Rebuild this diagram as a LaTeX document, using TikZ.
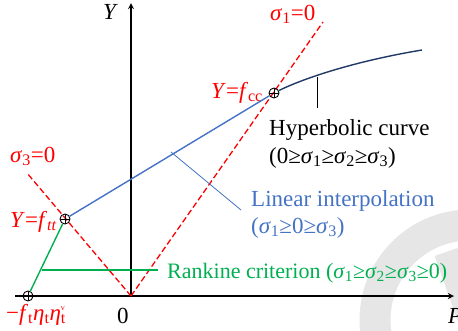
\documentclass[tikz,border=0pt]{standalone}
\usepackage{fontspec}
\setmainfont{Liberation Serif}
\usepackage{tikz}
\usetikzlibrary{arrows}
\definecolor{zerored}{HTML}{FF0000}
\definecolor{interpblue}{HTML}{4472C4}
\definecolor{rankgreen}{HTML}{00B050}
\definecolor{hypnavy}{HTML}{1F3864}
\definecolor{wmgray}{HTML}{E6E6E6}
\newcommand{\sg}[1]{\textit{σ}\textsubscript{#1}}

\begin{document}
\begin{tikzpicture}[
    x=1pt, y=-1pt,
    axis/.style={->, >=stealth, line width=1.7pt, draw=black},
    zeroline/.style={draw=zerored, line width=1.3pt, dash pattern=on 6pt off 3pt},
    meridian/.style={line width=1.4pt},
    pointer/.style={line width=0.8pt},
    lbl/.style={font=\fontsize{23}{26}\selectfont, inner sep=0pt, anchor=base west},
    crosspt/.style={
      circle, draw=black, line width=0.9pt,
      minimum size=10pt, inner sep=0pt,
      path picture={
        \draw[line width=0.9pt]
          (path picture bounding box.north) -- (path picture bounding box.south)
          (path picture bounding box.west) -- (path picture bounding box.east);
      }
    }
  ]

    \useasboundingbox (0,0) rectangle (458,330);

    % ── Watermark (background) ───────────────────────────────────────────
    \draw[wmgray, line width=31pt] (470,320) circle[radius=95];
    \draw[wmgray, line width=24pt] (470,320) -- (446,252);

    % ── Axes ─────────────────────────────────────────────────────────────
    \coordinate (o)  at (131,296);
    \coordinate (xs) at (15,296);
    \coordinate (xe) at (454,296);
    \coordinate (ye) at (131,3);
    \draw[axis] (xs) -- (xe);
    \draw[axis] (o) -- (ye);
    \node[lbl] (ylab) at (103,19)  {\textit{Y}};
    \node[lbl] (plab) at (448,323) {\textit{P}};
    \node[lbl] (olab) at (117,323) {0};

    % ── Zero-stress lines ────────────────────────────────────────────────
    \coordinate (s1end) at (323,22);
    \coordinate (s3end) at (27,173);
    \draw[zeroline] (o) -- (s1end);
    \draw[zeroline] (o) -- (s3end);
    \node[lbl, text=zerored] (s1lab) at (270,20)  {\sg{1}=0};
    \node[lbl, text=zerored] (s3lab) at (10,162)  {\sg{3}=0};

    % ── Meridian points ──────────────────────────────────────────────────
    \node[crosspt] (ptt) at (65,219) {};
    \node[crosspt] (pcc) at (274,93) {};
    \node[crosspt] (pt0) at (28,296) {};
    \node[lbl, text=zerored] (ftt) at (10,227)
      {\textit{Y}=\textit{f}\textsubscript{\textit{tt}}};
    \node[lbl, text=zerored] (fcc) at (211,98)
      {\textit{Y}=\textit{f}\textsubscript{cc}};
    \node[lbl, text=zerored] (ft0) at (6,320)
      {−\textit{f}\textsubscript{t}\textit{η}\textsubscript{t}\textit{η}\rlap{\textsubscript{t}}\textsuperscript{\footnotesize v}};

    % ── Meridians ────────────────────────────────────────────────────────
    \coordinate (hypend) at (422,50);
    \draw[meridian, draw=rankgreen]  (pt0) -- (ptt);
    \draw[meridian, draw=interpblue] (ptt) -- (pcc);
    \draw[meridian, draw=hypnavy]    (pcc) .. controls (300,80) and (350,62) .. (hypend);

    % ── Pointers and labels ──────────────────────────────────────────────
    \coordinate (hyptip)  at (317,77);
    \coordinate (hypfoot) at (317,108);
    \draw[pointer, draw=black] (hyptip) -- (hypfoot);
    \node[lbl] (hyplab1) at (269,135) {Hyperbolic curve};
    \node[lbl] (hyplab2) at (269,163) {(0≥\sg{1}≥\sg{2}≥\sg{3})};

    \coordinate (lintip)  at (171,152);
    \coordinate (linfoot) at (241,210);
    \draw[pointer, draw=interpblue] (lintip) -- (linfoot);
    \node[lbl, text=interpblue] (linlab1) at (251,206) {Linear interpolation};
    \node[lbl, text=interpblue] (linlab2) at (251,233) {(\sg{1}≥0≥\sg{3})};

    \coordinate (ranktip)  at (42,270);
    \coordinate (rankfoot) at (158,270);
    \draw[meridian, draw=rankgreen] (ranktip) -- (rankfoot);
    \node[lbl, text=rankgreen, font=\fontsize{22}{25}\selectfont] (ranklab) at (167,278)
      {Rankine criterion (\sg{1}≥\sg{2}≥\sg{3}≥0)};

  \end{tikzpicture}
\end{document}
